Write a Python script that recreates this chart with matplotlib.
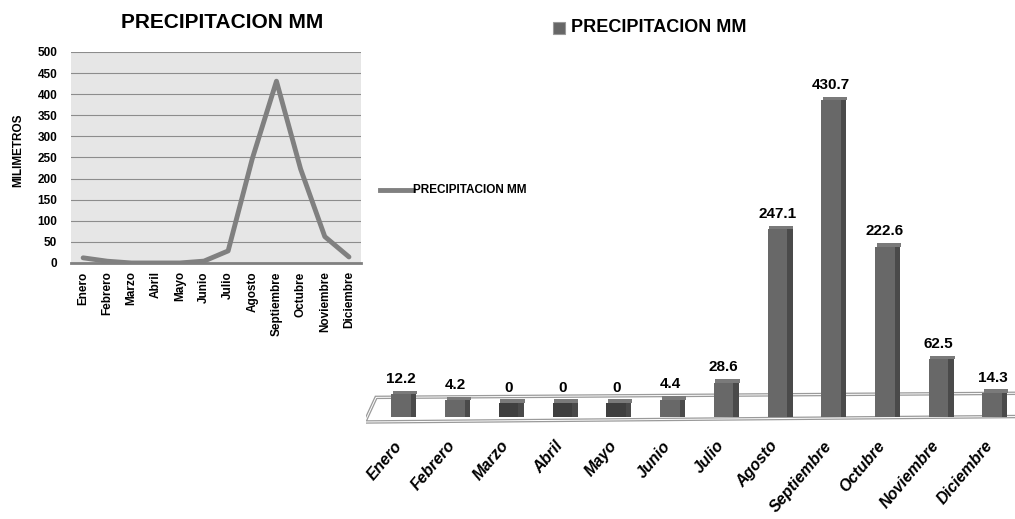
import numpy as np
import matplotlib.pyplot as plt
from matplotlib.patches import Polygon, Rectangle

# datos
meses = ["Enero", "Febrero", "Marzo", "Abril", "Mayo", "Junio", "Julio",
         "Agosto", "Septiembre", "Octubre", "Noviembre", "Diciembre"]
precip = [12.2, 4.2, 0, 0, 0, 4.4, 28.6, 247.1, 430.7, 222.6, 62.5, 14.3]
etiquetas = ["12.2", "4.2", "0", "0", "0", "4.4", "28.6",
             "247.1", "430.7", "222.6", "62.5", "14.3"]
yticks = list(range(0, 501, 50))

SANS = ["Liberation Sans", "DejaVu Sans"]

fig = plt.figure(figsize=(10.15, 5.19), dpi=100)
x = np.arange(len(meses))

# -----------------------
# Grafico 1: linea
# -----------------------
ax1 = fig.add_axes([0.070, 0.4933, 0.2857, 0.4066])
ax1.set_facecolor('#e6e6e6')
ax1.plot(x, precip, color='#808080', lw=3.5, solid_capstyle='round')
ax1.set_xlim(-0.5, 11.5)
ax1.set_ylim(0, 500)
ax1.set_yticks(yticks)
ax1.grid(axis='y', color='#8c8c8c', lw=0.8)
ax1.set_axisbelow(True)
for s in ['left', 'right', 'top']:
    ax1.spines[s].set_visible(False)
ax1.spines['bottom'].set_color('#808080')
ax1.spines['bottom'].set_linewidth(2)
ax1.set_xticks(x)
ax1.set_xticklabels(meses, rotation=90, fontsize=8.5, fontweight='bold', family=SANS)
for lab in ax1.get_yticklabels():
    lab.set_fontsize(8.5)
    lab.set_fontweight('bold')
    lab.set_family(SANS)
ax1.tick_params(length=0)
ax1.tick_params(axis='y', pad=10)
ax1.tick_params(axis='x', pad=6)

fig.text(0.219, 0.957, "PRECIPITACION MM", ha='center', va='center',
         fontsize=15, fontweight='bold', family=SANS)
fig.text(0.0177, 0.711, "MILIMETROS", rotation=90, ha='center', va='center',
         fontsize=8.5, fontweight='bold', family=SANS)

# leyenda del grafico de linea
fig.add_artist(plt.Line2D([380 / 1015, 413 / 1015], [1 - 190 / 519, 1 - 190 / 519],
                          color='#808080', lw=3.5, transform=fig.transFigure))
fig.text(413 / 1015, 1 - 190 / 519, "PRECIPITACION MM", ha='left', va='center',
         fontsize=8.5, fontweight='bold', family=SANS)

# -----------------------
# Grafico 2: barras "3D"
# -----------------------
ax2 = fig.add_axes([0.3606, 0.1715, 0.6394, 0.7129])
ax2.set_xlim(-0.707, 11.37)
ax2.set_ylim(-38.4, 488)
ax2.axis('off')

piso_xy = [(-0.52, 8), (11.8, 14), (11.8, -19), (-0.73, -27)]
ax2.add_patch(Polygon(piso_xy, closed=True, facecolor='white',
                      edgecolor='#9a9a9a', lw=2.5, zorder=1))
ax2.add_patch(Polygon(piso_xy, closed=True, facecolor='none',
                      edgecolor='white', lw=0.7, zorder=1))

base = -20
vals = np.array(precip)
colores = ['#3f3f3f' if v == 0 else '#686868' for v in vals]
ax2.bar(x - 0.05, vals - base, bottom=base, width=0.37, color=colores, zorder=3)
ax2.bar(x + 0.18, vals - base, bottom=base, width=0.10, color='#4a4a4a', zorder=3)
ax2.bar(x + 0.02, 5, bottom=vals, width=0.45, color='#7a7a7a', zorder=3)

for i, v in enumerate(vals):
    ax2.text(i - 0.05, v + 12, etiquetas[i], ha='center', va='bottom',
             fontsize=11, fontweight='bold', family=SANS)

for i, m in enumerate(meses):
    ax2.text(i - 0.2, -50, m, ha='right', va='top', rotation=50,
             rotation_mode='anchor', fontsize=11.5, fontweight='bold',
             fontstyle='italic', family=SANS)

# titulo con marcador de leyenda
fig.patches.append(Rectangle((553 / 1015, 1 - 34 / 519), 12 / 1015, 12 / 519,
                             facecolor='#666666', edgecolor='#999999', lw=0.8,
                             transform=fig.transFigure, figure=fig))
fig.text(571 / 1015, 1 - 28 / 519, "PRECIPITACION MM", ha='left', va='center',
         fontsize=13, fontweight='bold', family=SANS)

plt.savefig("out.png", dpi=100)
